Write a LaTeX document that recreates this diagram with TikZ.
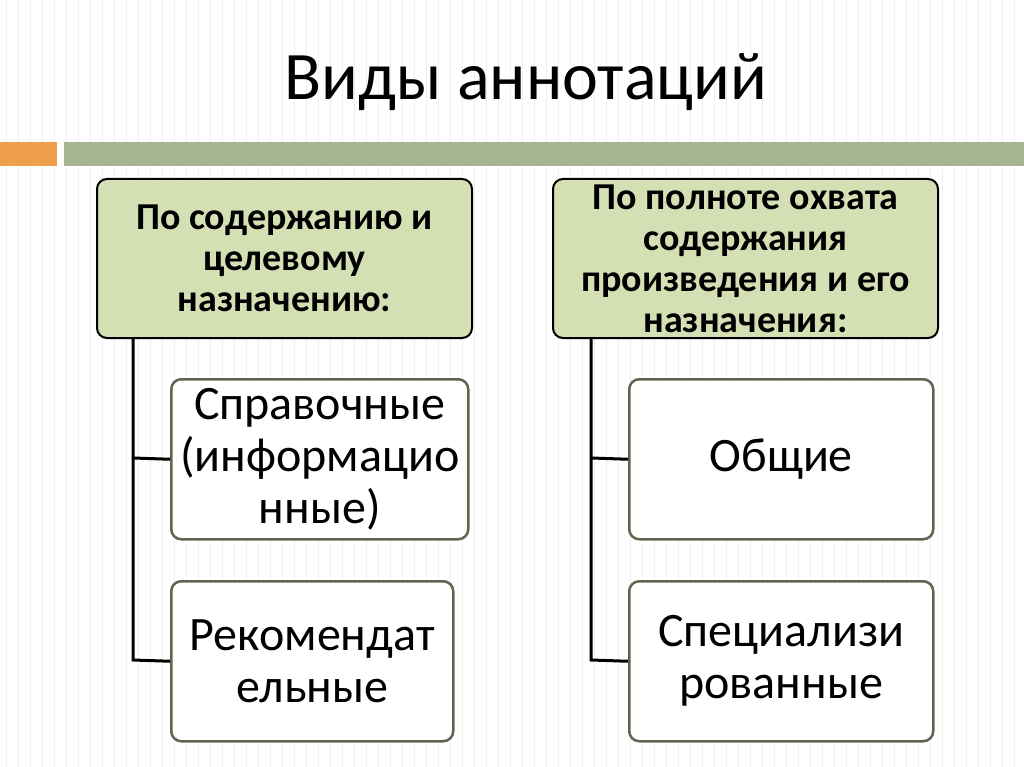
\documentclass[tikz,border=0pt]{standalone}
\usepackage{fontspec}
\setmainfont{Carlito}
\begin{document}
\begin{tikzpicture}[x=1pt,y=-1pt,
  top/.style={draw=black,line width=2pt,rounded corners=10pt,fill=topgreen,align=center,inner sep=0pt,font=\fontsize{38}{41}\selectfont\bfseries},
  sub/.style={draw=subgray,line width=2.5pt,rounded corners=10pt,fill=white,align=center,inner sep=0pt,font=\fontsize{48}{52}\selectfont},
  conn/.style={line width=3pt}]
\definecolor{topgreen}{HTML}{D4E0B4}
\definecolor{subgray}{HTML}{5E6650}
\definecolor{orangebar}{HTML}{F0A04B}
\definecolor{greenbar}{HTML}{A5B592}
\fill[white] (0,0) rectangle (1024,767);
\useasboundingbox (0,0) rectangle (1024,767);
\foreach \i in {0,...,85} \draw[gray!12,line width=1pt] (6+12*\i,0) -- (6+12*\i,767);
\fill[orangebar] (0,142) rectangle (57,166);
\fill[greenbar] (64,142) rectangle (1024,166);
\node[font=\fontsize{68}{70}\selectfont] (title) at (526,82) {Виды аннотаций};
\node[top,minimum width=375,minimum height=159,anchor=north west] (a) at (96,178) {По содержанию и\\целевому\\назначению:};
\node[top,minimum width=385,minimum height=159,anchor=north west] (b) at (552,178) {По полноте охвата\\содержания\\произведения и его\\назначения:};
\node[sub,minimum width=297,minimum height=160,anchor=north west] (a1) at (170,378) {Справочные\\(информацио\\нные)};
\node[sub,minimum width=282,minimum height=160,anchor=north west] (a2) at (170,580) {Рекомендат\\ельные};
\node[sub,minimum width=304,minimum height=160,anchor=north west] (b1) at (628,378) {Общие};
\node[sub,minimum width=304,minimum height=160,anchor=north west] (b2) at (628,580) {Специализи\\рованные};
\coordinate (ac) at (133,337);
\coordinate (bc) at (591,337);
\draw[conn] (ac) -- (133,660) -- (a2.west);
\draw[conn] (133,458) -- (a1.west);
\draw[conn] (bc) -- (591,660) -- (b2.west);
\draw[conn] (591,458) -- (b1.west);
\end{tikzpicture}
\end{document}
